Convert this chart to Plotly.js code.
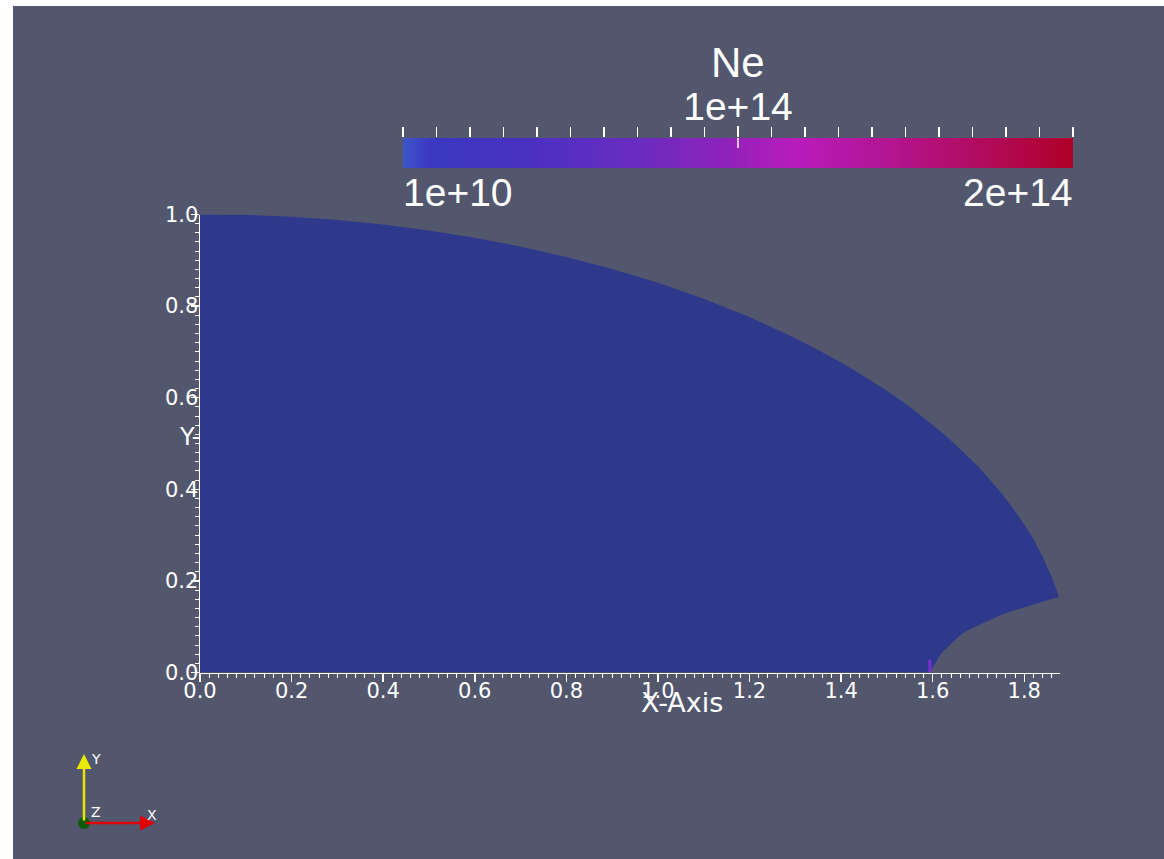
<!DOCTYPE html>
<html>
<head>
<meta charset="utf-8">
<script src="https://cdn.plot.ly/plotly-3.0.1.min.js"></script>
<style>
html,body{margin:0;padding:0;background:#ffffff;overflow:hidden;width:1164px;height:859px}
#plot{position:absolute;left:13px;top:6px;width:1151px;height:853px}
</style>
</head>
<body>
<div id="plot"></div>
<script>
// ---- data ----
// outer boundary of the domain (top curve), from (0,1) to the tip
const outerX = [0, 0.1, 0.2, 0.3, 0.4, 0.5, 0.6, 0.7, 0.8, 0.9, 1.0, 1.1, 1.2, 1.3, 1.35, 1.4, 1.45, 1.5, 1.55, 1.6, 1.62, 1.65, 1.68, 1.7, 1.72, 1.75, 1.78, 1.8, 1.82, 1.84, 1.86, 1.876];
const outerY = [1.0, 0.999, 0.995, 0.988, 0.978, 0.965, 0.949, 0.930, 0.907, 0.881, 0.851, 0.816, 0.776, 0.730, 0.704, 0.677, 0.647, 0.615, 0.580, 0.541, 0.524, 0.497, 0.469, 0.449, 0.427, 0.392, 0.352, 0.323, 0.291, 0.253, 0.209, 0.165];
// inner boundary (notch) from the tip back down to the axis
const innerX = [1.85, 1.83, 1.81, 1.79, 1.77, 1.75, 1.73, 1.71, 1.69, 1.68, 1.67, 1.66, 1.65, 1.64, 1.63, 1.62, 1.613, 1.607, 1.600, 1.594];
const innerY = [0.158, 0.152, 0.146, 0.140, 0.133, 0.126, 0.117, 0.108, 0.099, 0.094, 0.088, 0.081, 0.072, 0.063, 0.053, 0.043, 0.033, 0.022, 0.011, 0.0];
// origin corner
const cornerX = [0];
const cornerY = [0];
// small high-density spot at the notch
const spikeX = [1.594, 1.594];
const spikeY = [0.0, 0.028];

// colour bar
const neTitle = 'Ne';
const neRange = [1e10, 2e14];
const neTickVals = [1e14];
const neTickText = ['1e+14'];
const neEndLabels = ['1e+10', '2e+14'];
const neColorscale = [
  [0.00, '#3d55c8'],
  [0.04, '#3a38c2'],
  [0.20, '#4c30c2'],
  [0.35, '#6a2cc0'],
  [0.48, '#8e22ba'],
  [0.58, '#b81cbc'],
  [0.70, '#b4169a'],
  [0.85, '#b20c62'],
  [1.00, '#b00028']
];

// axis texts
const xTitle = 'X-Axis';
const yTitle = 'Y-';
const triad = {x: 'X', y: 'Y', z: 'Z'};

// ---- page-pixel helpers (div is offset 13,6 in the page) ----
const W = 1151, H = 853;
function px(x){ return (x - 13) / W; }
function py(y){ return 1 - (y - 6) / H; }

const domX = outerX.concat(innerX, cornerX);
const domY = outerY.concat(innerY, cornerY);

const white = '#ffffff';
const axisFont = {family: 'DejaVu Sans, sans-serif', size: 21, color: white};
const barFont = {family: 'Liberation Sans, Arial, sans-serif', size: 39, color: white};

const traces = [
  {
    type: 'scatter', mode: 'lines', x: domX, y: domY,
    fill: 'toself', fillcolor: '#2e398c', line: {width: 0, color: '#2e398c'},
    hoverinfo: 'skip', xaxis: 'x', yaxis: 'y'
  },
  {
    type: 'scatter', mode: 'lines', x: spikeX, y: spikeY,
    line: {width: 3, color: '#7d2fd6'}, hoverinfo: 'skip', xaxis: 'x', yaxis: 'y'
  },
  {
    type: 'heatmap', x: neRange, y: [0, 1], z: [neRange, neRange],
    colorscale: neColorscale, zmin: neRange[0], zmax: neRange[1],
    zsmooth: 'best', showscale: false, hoverinfo: 'skip',
    xaxis: 'x2', yaxis: 'y2'
  }
];

const layout = {
  width: W, height: H,
  margin: {l: 0, r: 0, t: 0, b: 0, pad: 0},
  paper_bgcolor: '#52576e',
  plot_bgcolor: 'rgba(0,0,0,0)',
  showlegend: false,
  xaxis: {
    domain: [px(200), px(1060)], range: [0, 1.878], anchor: 'y',
    showline: true, linecolor: white, linewidth: 1.5,
    ticks: 'outside', ticklen: 8, tickwidth: 1.5, tickcolor: white,
    tick0: 0, dtick: 0.2, tickformat: '.1f', tickfont: axisFont,
    ticklabelstandoff: -9,
    minor: {dtick: 0.02, ticks: 'outside', ticklen: 4, tickwidth: 1, tickcolor: white},
    showgrid: false, zeroline: false, fixedrange: true
  },
  yaxis: {
    domain: [py(672.5), py(214.5)], range: [0, 1], anchor: 'x',
    showline: true, linecolor: white, linewidth: 1.5,
    ticks: 'outside', ticklen: 8, tickwidth: 1.5, tickcolor: white,
    tick0: 0, dtick: 0.2, tickformat: '.1f', tickfont: axisFont,
    ticklabelstandoff: -12,
    minor: {dtick: 0.02, ticks: 'outside', ticklen: 4, tickwidth: 1, tickcolor: white},
    showgrid: false, zeroline: false, fixedrange: true
  },
  xaxis2: {
    domain: [px(403), px(1073)], range: [0, neRange[1]], anchor: 'y2', side: 'top',
    showline: false, showgrid: false, zeroline: false,
    ticks: 'outside', ticklen: 11, tickwidth: 1.5, tickcolor: white,
    tickvals: neTickVals, ticktext: neTickText, tickfont: barFont,
    ticklabelstandoff: -10,
    minor: {tick0: 0, dtick: 1e13, ticks: 'outside', ticklen: 10, tickwidth: 1.5, tickcolor: white},
    fixedrange: true
  },
  yaxis2: {
    domain: [py(168), py(138)], range: [0, 1], anchor: 'x2', visible: false, fixedrange: true
  },
  shapes: [
    {type: 'line', xref: 'x2', yref: 'paper', x0: neTickVals[0], x1: neTickVals[0],
     y0: py(138), y1: py(148), line: {color: white, width: 1.5}, layer: 'above'},
    {type: 'circle', xref: 'paper', yref: 'paper', xsizemode: 'pixel', ysizemode: 'pixel',
     xanchor: px(84), yanchor: py(823), x0: -6, x1: 6, y0: -6, y1: 6,
     fillcolor: '#0b5c0b', line: {width: 0}}
  ],
  annotations: [
    {text: neTitle, xref: 'paper', yref: 'paper', x: px(738), y: py(62), xanchor: 'center', yanchor: 'middle',
     showarrow: false, font: {family: 'Liberation Sans, Arial, sans-serif', size: 42, color: white}},
    {text: neEndLabels[0], xref: 'paper', yref: 'paper', x: px(401), y: py(192), xanchor: 'left', yanchor: 'middle',
     showarrow: false, font: barFont},
    {text: neEndLabels[1], xref: 'paper', yref: 'paper', x: px(1075), y: py(192), xanchor: 'right', yanchor: 'middle',
     showarrow: false, font: barFont},
    {text: xTitle, xref: 'paper', yref: 'paper', x: px(682), y: py(702), xanchor: 'center', yanchor: 'middle',
     showarrow: false, font: {family: 'DejaVu Sans, sans-serif', size: 27, color: white}},
    {text: yTitle, xref: 'paper', yref: 'paper', x: px(202), y: py(437), xanchor: 'right', yanchor: 'middle',
     showarrow: false, font: {family: 'DejaVu Sans, sans-serif', size: 24, color: white}},
    // orientation triad
    {text: '', xref: 'paper', yref: 'paper', x: px(84), y: py(754), ax: 0, ay: 68,
     showarrow: true, arrowhead: 2, arrowsize: 1.2, arrowwidth: 2.5, arrowcolor: '#e8e800', standoff: 0},
    {text: '', xref: 'paper', yref: 'paper', x: px(155), y: py(823), ax: -71, ay: 0,
     showarrow: true, arrowhead: 2, arrowsize: 1.2, arrowwidth: 2.5, arrowcolor: '#e00000', standoff: 0},
    {text: triad.y, xref: 'paper', yref: 'paper', x: px(89), y: py(759), xanchor: 'left', yanchor: 'middle',
     showarrow: false, font: {family: 'DejaVu Sans, sans-serif', size: 14, color: white}},
    {text: triad.z, xref: 'paper', yref: 'paper', x: px(89), y: py(812), xanchor: 'left', yanchor: 'middle',
     showarrow: false, font: {family: 'DejaVu Sans, sans-serif', size: 14, color: white}},
    {text: triad.x, xref: 'paper', yref: 'paper', x: px(145), y: py(815), xanchor: 'left', yanchor: 'middle',
     showarrow: false, font: {family: 'DejaVu Sans, sans-serif', size: 14, color: white}}
  ]
};

Plotly.newPlot('plot', traces, layout, {displayModeBar: false, staticPlot: true});
</script>
</body>
</html>
